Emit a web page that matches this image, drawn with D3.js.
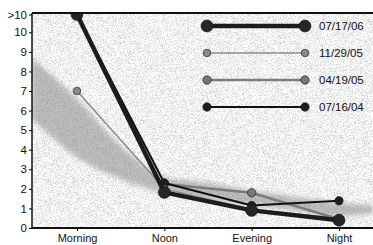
<!DOCTYPE html>
<html>
<head>
<meta charset="utf-8">
<script src="https://cdn.jsdelivr.net/npm/d3@7"></script>
<style>
  body { margin: 0; background: #fff; }
  svg { display: block; }
  text { font-family: "Liberation Sans", Arial, sans-serif; fill: #111; }
</style>
</head>
<body>
<svg width="373" height="245"></svg>
<script>
// categories along x
var periods = ["Morning", "Noon", "Evening", "Night"];

// series (legend order)
var dates = ["07/17/06", "11/29/05", "04/19/05", "07/16/04"];
var s071706 = [11, 1.82, 0.9, 0.4];
var s112905 = [7, 2.0, 0.95, 0.5];
var s041905 = [null, 2.25, 1.8, 0.45];
var s071604 = [11, 2.3, 1.15, 1.39];

// y ticks
var yTicks = [0, 1, 2, 3, 4, 5, 6, 7, 8, 9, 10, 11];
var yTickLabels = ["0", "1", "2", "3", "4", "5", "6", "7", "8", "9", "10", ">10"];

// grey trend band (position along x in category units)
var bandAt = [-0.52, 0, 0.5, 1, 1.5, 2, 2.5, 3, 3.4];
var bandHi = [8.7, 6.6, 4.2, 2.6, 2.3, 1.9, 1.6, 1.3, 1.15];
var bandLo = [5.6, 3.6, 2.5, 1.8, 1.45, 1.15, 0.9, 0.6, 0.75];

var svg = d3.select("svg"),
    width = 373, height = 245,
    padL = 32, padT = 13, baseY = 228;

var x = d3.scaleLinear().domain([0, 3]).range([77, 339]);
var y = d3.scaleLinear().domain([0, 10, 11]).range([baseY, 32.3, 14.5]);

// fine noise for the stippled plot background
var defs = svg.append("defs");
var noise = defs.append("filter").attr("id", "noise")
    .attr("x", 0).attr("y", 0).attr("width", 1).attr("height", 1);
noise.append("feTurbulence").attr("type", "fractalNoise")
    .attr("baseFrequency", 1.6).attr("numOctaves", 2).attr("seed", 3);
noise.append("feColorMatrix").attr("type", "matrix")
    .attr("values", "1.1 0 0 0 0.35  1.1 0 0 0 0.35  1.1 0 0 0 0.35  0 0 0 0 1");
defs.append("filter").attr("id", "soft")
    .attr("x", "-20%").attr("y", "-20%").attr("width", "140%").attr("height", "140%")
    .append("feGaussianBlur").attr("stdDeviation", 2.5);
defs.append("clipPath").attr("id", "plotclip")
  .append("rect").attr("x", padL).attr("y", padT).attr("width", width - padL).attr("height", baseY - padT);

// title, almost entirely cut off by the top edge
svg.append("text")
    .attr("x", 180).attr("y", -4.5)
    .style("font-size", "19px").style("font-weight", "bold")
    .text("(Count in category)");

var plot = svg.append("g").attr("clip-path", "url(#plotclip)");

plot.append("rect")
    .attr("x", padL).attr("y", padT)
    .attr("width", width - padL).attr("height", baseY - padT)
    .attr("fill", "#ddd")
    .attr("filter", "url(#noise)");

var bandArea = d3.area()
    .x(function(d, i) { return x(bandAt[i]); })
    .y0(function(d, i) { return y(bandLo[i]); })
    .y1(function(d, i) { return y(bandHi[i]); })
    .curve(d3.curveMonotoneX);

plot.append("path")
    .datum(bandAt)
    .attr("d", bandArea)
    .attr("fill", "#808080")
    .attr("opacity", 0.5)
    .attr("filter", "url(#soft)");

// series styles
var series = [
  { name: dates[0], values: s071706, stroke: "#1c1c1c", sw: 4.5, r: 6, fill: "#262626" },
  { name: dates[1], values: s112905, stroke: "#8c8c8c", sw: 1.5, r: 3.8, fill: "#8a8a8a" },
  { name: dates[2], values: s041905, stroke: "#7c7c7c", sw: 2.5, r: 4.2, fill: "#777" },
  { name: dates[3], values: s071604, stroke: "#111", sw: 2, r: 4.2, fill: "#1e1e1e" }
];

var line = d3.line()
    .defined(function(d) { return d != null; })
    .x(function(d, i) { return x(i); })
    .y(function(d) { return y(d); });

// thick 07/17/06 goes on top
var drawOrder = [series[2], series[3], series[1], series[0]];

drawOrder.forEach(function(s) {
  var g = plot.append("g");
  g.append("path")
      .datum(s.values)
      .attr("d", line)
      .attr("fill", "none")
      .attr("stroke", s.stroke)
      .attr("stroke-width", s.sw)
      .attr("stroke-linejoin", "round");
  g.selectAll("circle")
    .data(s.values.map(function(v, i) { return { v: v, i: i }; })
      .filter(function(d) { return d.v != null; }))
    .enter().append("circle")
      .attr("cx", function(d) { return x(d.i); })
      .attr("cy", function(d) { return y(d.v); })
      .attr("r", s.r)
      .attr("fill", s.fill)
      .attr("stroke", "#111")
      .attr("stroke-width", 0.6);
});

// frame: top line, y axis, x axis
svg.append("line")
    .attr("x1", padL).attr("x2", width).attr("y1", padT).attr("y2", padT)
    .attr("stroke", "#111").attr("stroke-width", 2);

var yAxis = d3.axisLeft(y)
    .tickValues(yTicks)
    .tickFormat(function(d, i) { return yTickLabels[i]; })
    .tickSize(3).tickPadding(2);

var ya = svg.append("g")
    .attr("transform", "translate(" + padL + ",0)")
    .call(yAxis);
ya.select(".domain").attr("stroke", "#111").attr("stroke-width", 1.5)
    .attr("d", "M0," + padT + "V" + baseY);
ya.selectAll("text").style("font-size", "11.5px").attr("fill", "#111");

var xAxis = d3.axisBottom(x)
    .tickValues([0, 1, 2, 3])
    .tickFormat(function(d) { return periods[d]; })
    .tickSize(3).tickPadding(3);

var xa = svg.append("g")
    .attr("transform", "translate(0," + baseY + ")")
    .call(xAxis);
xa.select(".domain").attr("stroke", "#111").attr("stroke-width", 2)
    .attr("d", "M" + padL + ",0H" + width);
xa.selectAll("text").style("font-size", "11px").attr("fill", "#111");

// legend
var legend = svg.append("g");
series.forEach(function(s, i) {
  var ly = 26 + i * 27;
  var g = legend.append("g");
  g.append("line")
      .attr("x1", 207).attr("x2", 305).attr("y1", ly).attr("y2", ly)
      .attr("stroke", s.stroke).attr("stroke-width", s.sw);
  [207, 305].forEach(function(cx) {
    g.append("circle")
        .attr("cx", cx).attr("cy", ly).attr("r", s.r)
        .attr("fill", s.fill).attr("stroke", "#111").attr("stroke-width", 0.6);
  });
  g.append("text")
      .attr("x", 319).attr("y", ly).attr("dy", "0.35em")
      .style("font-size", "11.5px")
      .text(s.name);
});
</script>
</body>
</html>
